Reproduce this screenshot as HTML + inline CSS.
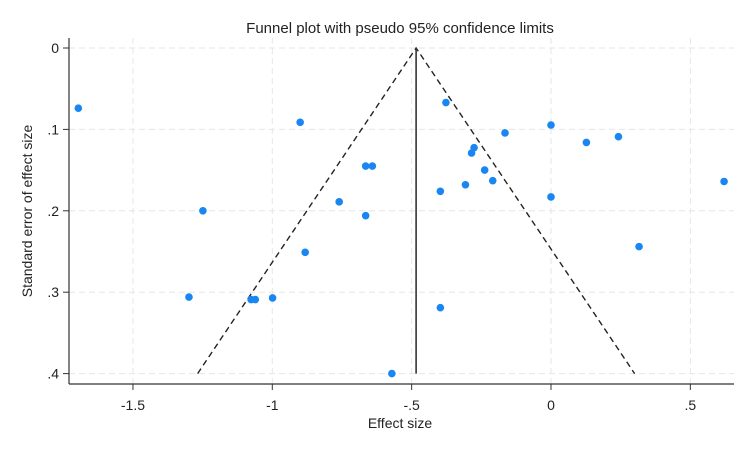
<!DOCTYPE html>
<html><head><meta charset="utf-8"><style>
body{margin:0;background:#fff;}
svg{display:block;font-family:"Liberation Sans",Arial,sans-serif;}
</style></head><body>
<svg id="chart" width="750" height="450" viewBox="0 0 750 450"></svg>
<script>
const effects=[-1.696,-0.9,-1.249,-1.299,-1.076,-1.061,-0.999,-0.882,-0.760,-0.665,-0.641,-0.665,-0.377,0,-0.165,0.127,0.242,-0.276,-0.285,-0.238,-0.209,-0.307,-0.397,0,0.621,0.316,-0.397,-0.571];
const ses=[0.074,0.0913,0.200,0.306,0.309,0.309,0.307,0.251,0.189,0.145,0.145,0.206,0.067,0.0946,0.1044,0.116,0.109,0.1224,0.129,0.150,0.163,0.168,0.176,0.183,0.164,0.244,0.319,0.400];
const xTicks=[-1.5,-1,-0.5,0,0.5];
const xTickLabels=["-1.5","-1","-.5","0",".5"];
const yTicks=[0,0.1,0.2,0.3,0.4];
const yTickLabels=["0",".1",".2",".3",".4"];
const pooled=[-0.484];
const seMax=[0.4];

const NS="http://www.w3.org/2000/svg";
const svg=document.getElementById('chart');
const X=v=>551+278.7*v;
const Y=s=>48+814*s;
function mk(t,a,p){const e=document.createElementNS(NS,t);for(const k in a)e.setAttribute(k,a[k]);(p||svg).appendChild(e);return e;}

const title=mk('text',{x:400,y:33,'text-anchor':'middle','font-size':15,fill:'#222'});
title.textContent='Funnel plot with pseudo 95% confidence limits';



xTicks.forEach((v,i)=>{
  const g=mk('line',{x1:X(v),x2:X(v),y1:38,y2:384,stroke:'#e6e6e6','stroke-dasharray':'6,4'});
  
  
  const t=mk('line',{x1:X(v),x2:X(v),y1:384,y2:390,stroke:'#333'});
  
  
  const l=mk('text',{x:X(v),y:410,'text-anchor':'middle','font-size':14,fill:'#222'});
  l.textContent=xTickLabels[i];
  
  
});
yTicks.forEach((v,i)=>{
  const g=mk('line',{x1:69,x2:734,y1:Y(v),y2:Y(v),stroke:'#e6e6e6','stroke-dasharray':'6,4'});
  
  
  const t=mk('line',{x1:63,x2:69,y1:Y(v),y2:Y(v),stroke:'#333'});
  
  
  const l=mk('text',{x:59,y:Y(v)+5,'text-anchor':'end','font-size':14,fill:'#222'});
  l.textContent=yTickLabels[i];
  
  
});
const ya=mk('line',{x1:69,x2:69,y1:38,y2:384,stroke:'#333','stroke-width':1.2});


const xa=mk('line',{x1:69,x2:734,y1:384,y2:384,stroke:'#333','stroke-width':1.2});



const xt=mk('text',{x:400,y:428,'text-anchor':'middle','font-size':14,fill:'#222'});
xt.textContent='Effect size';


const yt=mk('text',{x:32,y:211,'text-anchor':'middle','font-size':14,fill:'#222',transform:'rotate(-90 32 211)'});
yt.textContent='Standard error of effect size';



const p=pooled[0],sm=seMax[0];
const fl=mk('path',{d:`M${X(p-1.96*sm)},${Y(sm)}L${X(p)},${Y(0)}L${X(p+1.96*sm)},${Y(sm)}`,fill:'none',stroke:'#222','stroke-width':1.4,'stroke-dasharray':'6,4'});


const vl=mk('line',{x1:X(p),x2:X(p),y1:Y(0),y2:Y(sm),stroke:'#333','stroke-width':1.6});



effects.forEach((v,i)=>{
  const c=mk('circle',{cx:X(v),cy:Y(ses[i]),r:3.8,fill:'#1a86f2'});
  
  
});
</script>
</body></html>
